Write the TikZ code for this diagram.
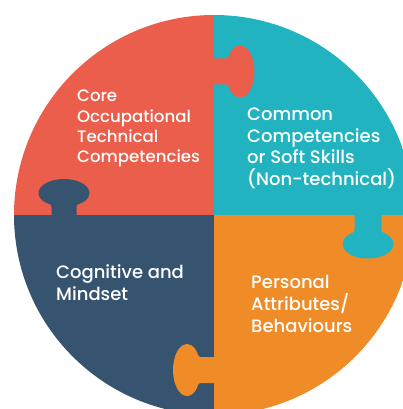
\documentclass[tikz,border=0pt]{standalone}
\usepackage{fontspec}
\setmainfont{Poppins}[UprightFont=* Medium, BoldFont=* SemiBold]
\definecolor{pzred}{RGB}{235,94,75}
\definecolor{pzteal}{RGB}{33,180,192}
\definecolor{pzblue}{RGB}{54,84,111}
\definecolor{pzorange}{RGB}{240,140,40}
% #1 distance of head centre, #2 head radius along, #3 head radius across, #4 neck half width
\newcommand\pztab[4]{(-1,-#4) -- ({#1-0.574*#2-6},-#4) .. controls ({#1-0.574*#2-2},-#4) and ({#1-0.82*#2},{-0.647*#3}) .. ({#1-0.574*#2},{-0.819*#3}) arc[start angle=235,end angle=485,x radius=#2,y radius=#3] .. controls ({#1-0.82*#2},{0.647*#3}) and ({#1-0.574*#2-2},#4) .. ({#1-0.574*#2-6},#4) -- (-1,#4) -- cycle}
\begin{document}
\begin{tikzpicture}[x=1pt,y=-1pt,
  lbl/.style={text=white, anchor=base west, align=left, inner sep=0pt}]
\useasboundingbox (0,0) rectangle (402,409);
\fill[white] (0,0) rectangle (402,409);
\begin{scope}
\clip (214,215) circle[radius=200];
\fill[pzred] (0,0) rectangle (214,215);
\fill[pzteal] (214,0) rectangle (420,215);
\fill[pzblue] (0,215) rectangle (214,420);
\fill[pzorange] (214,215) rectangle (420,420);
\fill[pzred, shift={(214,71.5)}] \pztab{26}{14.5}{26}{13};
\fill[pzteal, shift={(368,215)}, rotate=-90] \pztab{29}{14.5}{25.5}{13.5};
\fill[pzorange, shift={(214,370)}, rotate=180] \pztab{27}{14}{26}{13};
\fill[pzblue, shift={(64,215)}, rotate=90] \pztab{22}{14}{25.5}{12.5};
\end{scope}
\node[lbl, font=\fontsize{16.6}{20.3}\selectfont] (core) at (77,162.7) {Core\\Occupational\\Technical\\Competencies};
\node[lbl, font=\fontsize{18}{21.6}\selectfont] (common) at (247,185.5) {Common\\Competencies\\or Soft Skills\\(Non-technical)};
\node[lbl, font=\fontsize{18}{21.6}\selectfont] (cog) at (56,300) {Cognitive and\\Mindset};
\node[lbl, font=\fontsize{18}{21.6}\selectfont] (pers) at (251,332) {Personal\\Attributes/\\Behaviours};
\end{tikzpicture}
\end{document}
